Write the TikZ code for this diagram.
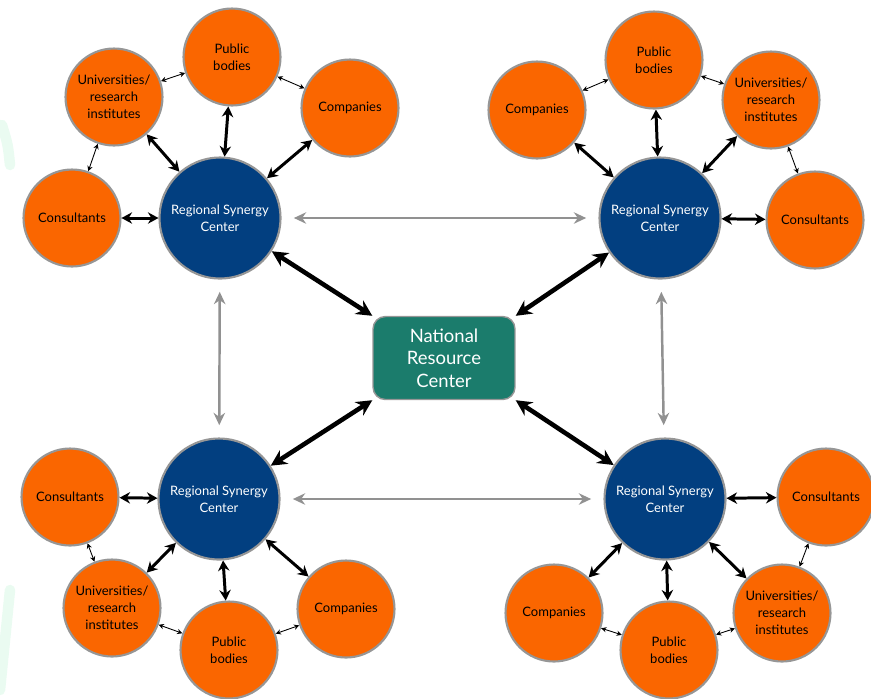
\documentclass[tikz,border=0pt]{standalone}
\usepackage{fontspec}
\setmainfont{Lato}
\usetikzlibrary{arrows.meta, positioning, shapes.geometric}
\definecolor{partnercolor}{RGB}{250, 102, 0}
\definecolor{regioncolor}{RGB}{2, 63, 128}
\definecolor{nationalcolor}{RGB}{27, 124, 108}
\definecolor{rimgray}{RGB}{150, 150, 150}
\definecolor{linkgray}{RGB}{145, 145, 145}
\definecolor{mint}{RGB}{234, 251, 241}
\tikzstyle{partner} = [circle, minimum size=1.94cm, inner sep=0pt, fill=partnercolor, draw=rimgray, line width=1.2pt, align=center, text=black, font=\fontsize{7.4}{9.6}\selectfont]
\tikzstyle{region} = [circle, minimum size=2.42cm, inner sep=0pt, fill=regioncolor, draw=rimgray, line width=1.2pt, align=center, text=white, font=\fontsize{7.4}{9.8}\selectfont]
\tikzstyle{national} = [rectangle, rounded corners=7pt, minimum width=2.84cm, minimum height=1.66cm, fill=nationalcolor, draw=rimgray, line width=0.8pt, align=center, text=white, font=\fontsize{10.5}{12.8}\selectfont]
\tikzstyle{hub_link} = [line width=2.6pt, {Stealth[length=9pt, width=9pt]}-{Stealth[length=9pt, width=9pt]}, black]
\tikzstyle{spoke_link} = [line width=1.7pt, {Stealth[length=6pt, width=6.5pt]}-{Stealth[length=6pt, width=6.5pt]}, black]
\tikzstyle{ring_link} = [line width=0.5pt, {Stealth[length=3pt, width=3pt]}-{Stealth[length=3pt, width=3pt]}, black]
\tikzstyle{peer_link} = [line width=1.4pt, {Stealth[length=7pt, width=6.5pt]}-{Stealth[length=7pt, width=6.5pt]}, linkgray, shorten <=7pt, shorten >=7pt]

\begin{document}
\begin{tikzpicture}[x=0.02cm, y=-0.02cm]
\useasboundingbox (0,0) rectangle (871,698);

% Faint background strokes at the left edge
\draw[mint, line width=6pt, line cap=round] (2,125) .. controls (8,145) .. (10,165);
\draw[mint, line width=6pt, line cap=round] (10,590) .. controls (6,640) .. (0,690);

% National node
\node[national] (nrc) at (444, 358) {National\\Resource\\Center};

% Regional nodes
\node[region] (rtl) at (220, 218) {Regional Synergy\\Center};
\node[region] (rtr) at (660, 218) {Regional Synergy\\Center};
\node[region] (rbl) at (219, 499) {Regional Synergy\\Center};
\node[region] (rbr) at (665, 499) {Regional Synergy\\Center};

% Top left partners
\node[partner] (tl_pub) at (232, 57) {Public\\bodies};
\node[partner] (tl_uni) at (114, 97) {Universities/\\research\\institutes};
\node[partner] (tl_com) at (350, 108) {Companies};
\node[partner] (tl_con) at (72, 218) {Consultants};

% Top right partners
\node[partner] (tr_pub) at (654, 60) {Public\\bodies};
\node[partner] (tr_com) at (537, 110) {Companies};
\node[partner] (tr_uni) at (771, 100) {Universities/\\research\\institutes};
\node[partner] (tr_con) at (815, 220) {Consultants};

% Bottom left partners
\node[partner] (bl_con) at (70, 497) {Consultants};
\node[partner] (bl_uni) at (112, 608) {Universities/\\research\\institutes};
\node[partner] (bl_pub) at (229, 650) {Public\\bodies};
\node[partner] (bl_com) at (346, 609) {Companies};

% Bottom right partners
\node[partner] (br_con) at (826, 497) {Consultants};
\node[partner] (br_com) at (554, 613) {Companies};
\node[partner] (br_pub) at (669, 650) {Public\\bodies};
\node[partner] (br_uni) at (782, 613) {Universities/\\research\\institutes};

% Links to the national node
\draw[hub_link] (rtl) -- (nrc.north west);
\draw[hub_link] (rtr) -- (nrc.north east);
\draw[hub_link] (rbl) -- (nrc.south west);
\draw[hub_link] (rbr) -- (nrc.south east);

% Links between regions
\draw[peer_link] (rtl) -- (rtr);
\draw[peer_link] (rbl) -- (rbr);
\draw[peer_link] (rtl) -- (rbl);
\draw[peer_link] (rtr) -- (rbr);

% Region to partner links
\foreach \r/\p in {rtl/tl_pub, rtl/tl_uni, rtl/tl_com, rtl/tl_con,
                   rtr/tr_pub, rtr/tr_uni, rtr/tr_com, rtr/tr_con,
                   rbl/bl_pub, rbl/bl_uni, rbl/bl_com, rbl/bl_con,
                   rbr/br_pub, rbr/br_uni, rbr/br_com, rbr/br_con}
  \draw[spoke_link] (\r) -- (\p);

% Partner ring links
\draw[ring_link] (tl_uni) -- (tl_pub);
\draw[ring_link] (tl_pub) -- (tl_com);
\draw[ring_link] (tl_uni) -- (tl_con);
\draw[ring_link] (tr_com) -- (tr_pub);
\draw[ring_link] (tr_pub) -- (tr_uni);
\draw[ring_link] (tr_uni) -- (tr_con);
\draw[ring_link] (bl_con) -- (bl_uni);
\draw[ring_link] (bl_uni) -- (bl_pub);
\draw[ring_link] (bl_pub) -- (bl_com);
\draw[ring_link] (br_com) -- (br_pub);
\draw[ring_link] (br_pub) -- (br_uni);
\draw[ring_link] (br_uni) -- (br_con);

\end{tikzpicture}
\end{document}
